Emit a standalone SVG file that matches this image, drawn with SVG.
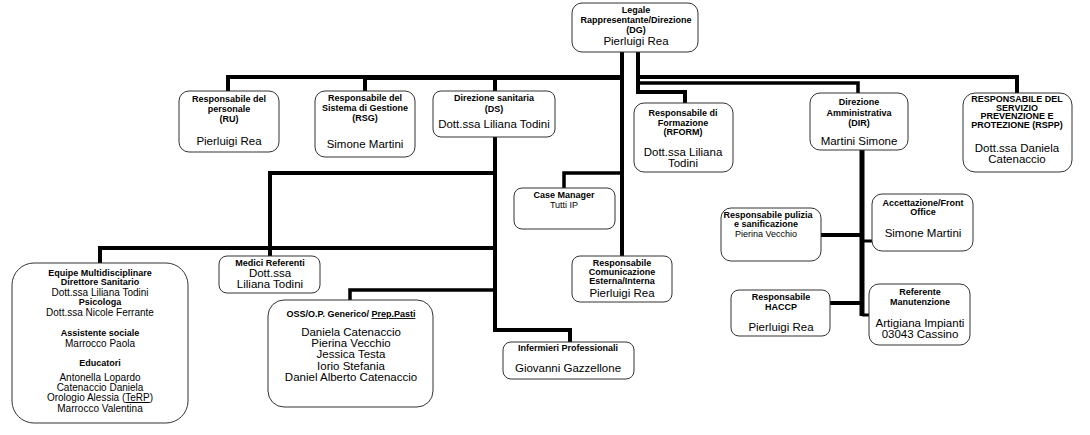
<svg xmlns="http://www.w3.org/2000/svg" width="1090" height="435" viewBox="0 0 1090 435">
<style>
.box{fill:#fff;stroke:#333;stroke-width:1}
.b{font-family:"Liberation Sans",Arial,sans-serif;font-size:9px;font-weight:bold;fill:#000;text-anchor:middle}
.r{font-family:"Liberation Sans",Arial,sans-serif;font-size:11.5px;fill:#000;text-anchor:middle}
.s{font-family:"Liberation Sans",Arial,sans-serif;font-size:9px;fill:#000;text-anchor:middle}
.e{font-family:"Liberation Sans",Arial,sans-serif;font-size:10px;fill:#000;text-anchor:middle}
.ln{fill:none;stroke:#000;stroke-width:4;stroke-linejoin:miter}
</style>
<rect width="1090" height="435" fill="#fff"/>
<g id="connectors">
<path class="ln" d="M228 92V77H622"/>
<path class="ln" d="M365 92V78H622"/>
<path class="ln" d="M495 91V78"/>
<path class="ln" d="M622 52V256"/>
<path class="ln" d="M638 52V92H685V103"/>
<path class="ln" d="M638 77H1017V93"/>
<path class="ln" d="M638 83H858V93" style="stroke-width:3.5"/>
<path class="ln" d="M622 173H564V188" style="stroke-width:3.5"/>
<path class="ln" d="M495 137V330H570V342"/>
<path class="ln" d="M495 173H270V256"/>
<path class="ln" d="M495 248H100V263"/>
<path class="ln" d="M495 290H350V300" style="stroke-width:3.5"/>
<path class="ln" d="M862 150V316" style="stroke-width:5"/>
<path class="ln" d="M821 235H862"/>
<path class="ln" d="M862 241H872" style="stroke-width:3"/>
<path class="ln" d="M830 303H862"/>
<path class="ln" d="M862 315H869" style="stroke-width:3"/>
</g>
<g id="dg">
<rect class="box" x="572" y="3" width="126" height="49" rx="10"/>
<text class="b" x="636" y="13">Legale</text>
<text class="b" x="636" y="23">Rappresentante/Direzione</text>
<text class="b" x="636" y="33">(DG)</text>
<text class="r" x="636" y="45">Pierluigi Rea</text>
</g>
<g id="ru">
<rect class="box" x="179" y="91" width="100" height="61" rx="10"/>
<text class="b" x="229" y="102">Responsabile del</text>
<text class="b" x="229" y="112">personale</text>
<text class="b" x="229" y="122">(RU)</text>
<text class="r" x="229" y="145">Pierluigi Rea</text>
</g>
<g id="rsg">
<rect class="box" x="315" y="91" width="100" height="66" rx="10"/>
<text class="b" x="365" y="101">Responsabile del</text>
<text class="b" x="365" y="111">Sistema di Gestione</text>
<text class="b" x="365" y="121">(RSG)</text>
<text class="r" x="365" y="148">Simone Martini</text>
</g>
<g id="ds">
<rect class="box" x="433" y="91" width="122" height="46" rx="8"/>
<text class="b" x="494" y="101">Direzione sanitaria</text>
<text class="b" x="494" y="112">(DS)</text>
<text class="r" x="494" y="128">Dott.ssa Liliana Todini</text>
</g>
<g id="rform">
<rect class="box" x="634" y="103" width="99" height="69" rx="10"/>
<text class="b" x="683" y="116">Responsabile di</text>
<text class="b" x="683" y="126">Formazione</text>
<text class="b" x="683" y="135">(RFORM)</text>
<text class="r" x="683" y="156">Dott.ssa Liliana</text>
<text class="r" x="683" y="167">Todini</text>
</g>
<g id="dir">
<rect class="box" x="810" y="93" width="98" height="57" rx="10"/>
<text class="b" x="859" y="105">Direzione</text>
<text class="b" x="859" y="116">Amministrativa</text>
<text class="b" x="859" y="126">(DIR)</text>
<text class="r" x="859" y="145">Martini Simone</text>
</g>
<g id="rspp">
<rect class="box" x="963" y="93" width="109" height="79" rx="12"/>
<text class="b" x="1017" y="102">RESPONSABILE DEL</text>
<text class="b" x="1017" y="111">SERVIZIO</text>
<text class="b" x="1017" y="119">PREVENZIONE E</text>
<text class="b" x="1017" y="128">PROTEZIONE (RSPP)</text>
<text class="r" x="1017" y="152">Dott.ssa Daniela</text>
<text class="r" x="1017" y="163">Catenaccio</text>
</g>
<g id="case-manager">
<rect class="box" x="514" y="188" width="101" height="41" rx="8"/>
<text class="b" x="564" y="198">Case Manager</text>
<text class="s" x="564" y="208">Tutti IP</text>
</g>
<g id="comunicazione">
<rect class="box" x="572" y="256" width="100" height="46" rx="8"/>
<text class="b" x="622" y="266">Responsabile</text>
<text class="b" x="622" y="275">Comunicazione</text>
<text class="b" x="622" y="284">Esterna/Interna</text>
<text class="r" x="622" y="297">Pierluigi Rea</text>
</g>
<g id="infermieri">
<rect class="box" x="503" y="342" width="131" height="37" rx="8"/>
<text class="b" x="568" y="351">Infermieri Professionali</text>
<text class="r" x="568" y="372">Giovanni Gazzellone</text>
</g>
<g id="medici">
<rect class="box" x="219" y="256" width="101" height="37" rx="8"/>
<text class="b" x="270" y="266">Medici Referenti</text>
<text class="r" x="270" y="277">Dott.ssa</text>
<text class="r" x="270" y="288">Liliana Todini</text>
</g>
<g id="oss">
<rect class="box" x="268" y="300" width="165" height="107" rx="16"/>
<text class="b" x="351" y="317">OSS/O.P. Generico/ <tspan text-decoration="underline">Prep.Pasti</tspan></text>
<text class="r" x="351" y="336">Daniela Catenaccio</text>
<text class="r" x="351" y="347">Pierina Vecchio</text>
<text class="r" x="351" y="358">Jessica Testa</text>
<text class="r" x="351" y="370">Iorio Stefania</text>
<text class="r" x="351" y="381">Daniel Alberto Catenaccio</text>
</g>
<g id="equipe">
<rect class="box" x="12" y="263" width="176" height="160" rx="22"/>
<text class="b" x="100" y="276">Equipe Multidisciplinare</text>
<text class="b" x="100" y="285">Direttore Sanitario</text>
<text class="e" x="100" y="296">Dott.ssa Liliana Todini</text>
<text class="b" x="100" y="305">Psicologa</text>
<text class="e" x="100" y="316">Dott.ssa Nicole Ferrante</text>
<text class="b" x="100" y="336">Assistente sociale</text>
<text class="e" x="100" y="347">Marrocco Paola</text>
<text class="b" x="100" y="366">Educatori</text>
<text class="e" x="100" y="381">Antonella Lopardo</text>
<text class="e" x="100" y="391">Catenaccio Daniela</text>
<text class="e" x="100" y="401">Orologio Alessia (<tspan text-decoration="underline">TeRP</tspan>)</text>
<text class="e" x="100" y="412">Marrocco Valentina</text>
</g>
<g id="pulizia">
<rect class="box" x="721" y="208" width="100" height="53" rx="10"/>
<text class="b" x="768" y="218">Responsabile pulizia</text>
<text class="b" x="766" y="227">e sanificazione</text>
<text class="s" x="766" y="237">Pierina Vecchio</text>
</g>
<g id="accettazione">
<rect class="box" x="872" y="194" width="101" height="57" rx="10"/>
<text class="b" x="923" y="206">Accettazione/Front</text>
<text class="b" x="923" y="215">Office</text>
<text class="r" x="923" y="237">Simone Martini</text>
</g>
<g id="haccp">
<rect class="box" x="731" y="290" width="99" height="46" rx="8"/>
<text class="b" x="781" y="300">Responsabile</text>
<text class="b" x="781" y="310">HACCP</text>
<text class="r" x="781" y="331">Pierluigi Rea</text>
</g>
<g id="manutenzione">
<rect class="box" x="869" y="284" width="101" height="61" rx="10"/>
<text class="b" x="920" y="295">Referente</text>
<text class="b" x="920" y="305">Manutenzione</text>
<text class="r" x="920" y="327">Artigiana Impianti</text>
<text class="r" x="920" y="338">03043 Cassino</text>
</g>
</svg>
